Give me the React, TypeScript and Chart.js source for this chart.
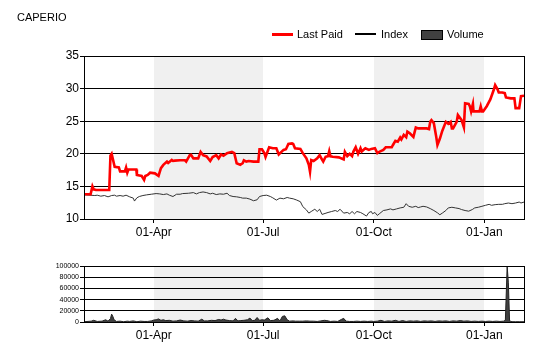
import React, { useEffect, useRef } from "react";
import { Chart, registerables } from "chart.js";

Chart.register(...registerables);

// ---- labels ----
const TITLE = "CAPERIO";
const legendLabels = ["Last Paid", "Index", "Volume"];

// ---- x axis: days counted from 01-Apr ----
const xMin = -58;
const xMax = 308;
const tickDays = [0, 91, 183, 275];
const tickLabels = ["01-Apr", "01-Jul", "01-Oct", "01-Jan"];
const shadedRanges = [
  [0, 91],
  [183, 275],
];

// ---- price axis ----
const priceMin = 10;
const priceMax = 35;
const priceStep = 5;

// ---- volume axis ----
const volumeMin = 0;
const volumeMax = 100000;
const volumeStep = 20000;

// ---- Last Paid ----
const lastPaidDays = [
  -58, -52.5, -51, -50, -48, -37, -36, -35, -32.5, -29, -28, -24, -23, -22, -21, -16, -14.5, -14, -10, -8, -7, -5, -3,
  1, 4, 6, 8, 11, 12, 15, 16, 17.5, 22, 26, 27, 30, 31, 33, 37, 39, 41, 44, 47, 49, 52, 54, 56, 58, 61, 65, 67, 69, 72,
  74, 75, 77, 79, 83, 87, 88, 90, 92, 93, 96, 99, 102, 104, 108, 110, 112, 115, 116, 117.5, 122, 124, 127, 129, 130,
  131, 133, 136, 138, 140, 141, 143, 145, 146, 147, 149, 154, 158, 159, 161, 163, 165, 166, 168, 170, 172, 173, 176,
  179, 181, 184, 186, 188, 191, 193, 198, 199, 201, 203, 205, 206, 208, 210, 211, 213, 216, 218, 220, 223, 227, 229,
  230, 231, 233, 235, 236, 238, 240, 243, 244, 245, 247, 248, 249, 252, 253, 255, 256, 258, 259, 262, 263, 264, 265.5,
  266, 269, 271, 272, 273, 274, 277, 280, 283, 284, 286, 287, 290, 292, 293, 297, 300, 301, 304, 305.5, 308,
];
const lastPaidValues = [
  13.8, 13.8, 15.0, 14.55, 14.45, 14.45, 19.7, 20.0, 18.0, 17.9, 17.3, 17.3, 17.9, 17.1, 17.6, 17.6, 17.6, 16.75, 16.6,
  16.0, 16.6, 16.75, 17.1, 17.0, 16.6, 17.8, 18.3, 18.8, 18.6, 19.05, 18.9, 18.95, 19.0, 19.0, 18.8, 19.8, 19.85, 19.3,
  19.3, 20.3, 19.8, 19.6, 18.9, 19.5, 19.8, 19.3, 19.9, 19.7, 20.1, 20.3, 20.1, 18.55, 18.3, 18.55, 19.0, 18.8, 18.9,
  18.8, 18.8, 20.7, 20.7, 20.1, 19.5, 21.0, 20.85, 20.85, 19.9, 20.6, 20.7, 21.5, 21.6, 21.5, 20.85, 20.75, 20.1, 19.3,
  18.3, 17.25, 19.05, 18.9, 19.3, 19.8, 19.1, 18.8, 19.55, 19.65, 20.4, 19.6, 19.55, 19.45, 19.15, 20.3, 19.65, 20.0,
  19.65, 20.3, 21.0, 20.0, 20.85, 20.35, 20.85, 20.6, 20.75, 20.85, 20.1, 20.35, 20.6, 21.0, 21.0, 21.35, 22.0, 21.85,
  22.5, 22.2, 22.9, 22.55, 23.4, 23.15, 22.6, 24.05, 23.9, 23.9, 23.9, 23.8, 24.9, 25.15, 24.7, 22.6, 21.35, 22.3, 23.5,
  24.9, 24.75, 24.6, 24.9, 23.9, 23.9, 24.9, 25.95, 25.45, 25.2, 24.05, 27.75, 27.65, 27.25, 26.5, 27.65, 26.5, 26.5,
  26.5, 27.25, 26.5, 26.5, 27.3, 28.35, 29.9, 30.55, 29.9, 29.4, 29.4, 29.3, 28.65, 28.5, 28.5, 27.0, 27.0, 28.85, 28.9,
];

// ---- Index ----
const indexDays = [
  -57.5, -53, -49, -47, -44, -41, -38, -35, -32.5, -31, -28, -25.5, -23, -20, -17, -16, -14, -12, -9, -6, -2, 2, 5, 8,
  11, 13, 16, 19, 22, 24, 29, 33, 35.5, 38, 41, 44, 47, 49, 52, 55, 58, 61, 63, 66, 69, 72, 74, 77, 80, 83, 86, 88, 91,
  94, 97, 99, 102, 105, 108, 111, 113, 116, 119, 122, 124, 127, 129, 131, 134, 136, 138, 140, 142.5, 145, 148, 151, 153,
  155, 158, 161, 163, 165, 167, 169, 172, 174, 177, 179, 181, 182, 184, 186, 188, 191, 194, 197, 199, 202, 205, 208,
  210, 212, 215, 218, 220, 222, 224, 227, 230, 233, 236, 238, 240, 243, 245, 248, 251, 254, 256, 259, 262, 265, 267,
  270, 273, 276, 279, 281, 284, 287, 290, 292, 295, 298, 301, 304, 305.5, 308,
];
const indexValues = [
  13.7, 13.65, 13.6, 13.65, 13.5, 13.6, 13.4, 13.6, 13.65, 13.5, 13.6, 13.5, 13.65, 13.4, 13.2, 12.75, 13.25, 13.45,
  13.6, 13.7, 13.8, 13.9, 13.85, 13.75, 13.85, 13.65, 13.45, 13.8, 13.8, 13.9, 13.95, 14.05, 13.85, 14.05, 14.15, 14.05,
  13.85, 13.95, 13.75, 13.85, 13.8, 13.95, 13.6, 13.45, 13.4, 13.3, 13.2, 13.2, 13.05, 12.8, 12.95, 13.45, 13.6, 13.65,
  13.45, 13.25, 12.9, 13.2, 13.1, 13.3, 13.2, 13.1, 12.9, 12.65, 11.9, 11.4, 10.9, 11.15, 11.5, 11.15, 11.5, 10.7,
  10.85, 11.0, 11.15, 11.3, 11.15, 11.5, 10.9, 11.0, 10.8, 11.15, 10.8, 11.15, 11.0, 10.8, 10.45, 11.0, 11.15, 10.8,
  11.0, 10.55, 10.85, 11.3, 11.4, 11.55, 11.4, 11.55, 11.7, 11.8, 12.35, 11.95, 11.8, 11.95, 11.75, 11.85, 11.95,
  11.85, 11.6, 11.3, 10.95, 10.65, 10.9, 11.3, 11.7, 11.8, 11.7, 11.6, 11.45, 11.3, 11.2, 11.45, 11.7, 11.8, 11.95,
  12.1, 12.25, 12.1, 12.2, 12.25, 12.25, 12.35, 12.45, 12.35, 12.45, 12.6, 12.45, 12.6,
];

// ---- Volume ----
const volumeDays = [
  -58, -52, -50, -47, -43, -40, -38, -36, -35, -34, -33, -31, -28, -25, -22, -20, -17, -14, -11, -8, -5, -2, 0, 2, 4, 6,
  8, 10, 13, 16, 19, 22, 25, 28, 31, 34, 37, 40, 42, 45, 48, 51, 54, 56, 58, 60, 63, 66, 68, 70, 72, 75, 78, 80, 82, 84,
  86, 88, 90, 92, 95, 97, 100, 103, 105, 107, 109, 111, 113, 116, 118, 121, 124, 127, 130, 133, 136, 139, 142, 144,
  147, 150, 153, 156, 158, 160, 163, 166, 169, 172, 175, 178, 181, 183, 186, 189, 192, 195, 198, 201, 204, 207, 210,
  213, 216, 219, 222, 225, 228, 231, 234, 237, 240, 243, 246, 249, 252, 255, 258, 261, 264, 267, 270, 273, 276, 279,
  282, 285, 288, 291, 292.5, 294, 295, 296, 298, 301, 304, 308,
];
const volumeValues = [
  500, 1500, 3000, 1000, 1500, 4000, 1500, 6000, 14000, 10000, 4000, 1000, 1500, 500, 1500, 1000, 2000, 500, 1500, 1000,
  1000, 2000, 3500, 4000, 5500, 3000, 4000, 2500, 3000, 1500, 2000, 3500, 2000, 1500, 2500, 2000, 1500, 5000, 2000,
  2000, 3000, 2500, 4500, 3500, 5000, 3500, 2500, 2000, 6500, 2000, 2500, 3000, 4000, 7000, 2500, 3000, 8000, 3000,
  4000, 3500, 7500, 2500, 3000, 6500, 2000, 10000, 11000, 4000, 1500, 2000, 1500, 1500, 1500, 2000, 1500, 1500, 1000,
  2000, 3000, 2500, 1000, 1500, 1000, 4500, 6500, 1500, 1000, 1000, 1500, 1000, 1500, 1000, 1500, 1000, 1500, 3000,
  1000, 2000, 1500, 3000, 1000, 2500, 1000, 2000, 1500, 2000, 1000, 2000, 1500, 2000, 1000, 2000, 1500, 2000, 1000,
  2000, 1500, 2500, 1500, 2000, 1000, 1500, 1000, 1500, 1000, 1500, 1000, 1500, 1000, 1500, 3000, 100000, 70000, 2000,
  500, 500, 500, 500,
];

const FONT = "'Liberation Sans', Arial, sans-serif";
const SHADE = "#f0f0f0";

const pts = (xs: number[], ys: number[]) => xs.map((x, i) => ({ x, y: ys[i] }));

const bandsPlugin = {
  id: "bands",
  beforeDraw(chart: any) {
    const { ctx, chartArea, scales } = chart;
    const xs = scales.x;
    ctx.save();
    ctx.fillStyle = SHADE;
    shadedRanges.forEach(([a, b]) => {
      const x0 = Math.round(xs.getPixelForValue(a));
      const x1 = Math.round(xs.getPixelForValue(b));
      ctx.fillRect(x0, chartArea.top, x1 - x0, chartArea.bottom - chartArea.top);
    });
    ctx.restore();
  },
};

const framePlugin = {
  id: "frame",
  afterDraw(chart: any) {
    const { ctx, chartArea } = chart;
    ctx.save();
    ctx.strokeStyle = "#000";
    ctx.lineWidth = 1;
    const l = Math.round(chartArea.left) + 0.5;
    const t = Math.round(chartArea.top) + 0.5;
    const r = Math.round(chartArea.right) + 0.5;
    const b = Math.round(chartArea.bottom) + 0.5;
    ctx.strokeRect(l, t, r - l, b - t);
    ctx.restore();
  },
};

const xScale = (height: number) => ({
  type: "linear" as const,
  min: xMin,
  max: xMax,
  afterBuildTicks: (s: any) => {
    s.ticks = tickDays.map((v) => ({ value: v }));
  },
  afterFit: (s: any) => {
    s.height = height;
  },
  ticks: {
    autoSkip: false,
    maxRotation: 0,
    padding: 2,
    color: "#000",
    font: { family: FONT, size: 12 },
    callback: (v: any) => {
      const i = tickDays.indexOf(Number(v));
      return i >= 0 ? tickLabels[i] : "";
    },
  },
  grid: { drawOnChartArea: false, drawTicks: true, tickLength: 4, color: "#000" },
  border: { color: "#000" },
});

function App() {
  const mainRef = useRef<HTMLCanvasElement>(null);
  const volRef = useRef<HTMLCanvasElement>(null);

  useEffect(() => {
    const main = new Chart(mainRef.current as HTMLCanvasElement, {
      type: "line",
      data: {
        datasets: [
          {
            label: legendLabels[0],
            data: pts(lastPaidDays, lastPaidValues),
            borderColor: "#ff0000",
            borderWidth: 2.6,
            pointRadius: 0,
            tension: 0,
            fill: false,
          },
          {
            label: legendLabels[1],
            data: pts(indexDays, indexValues),
            borderColor: "#333333",
            borderWidth: 1,
            pointRadius: 0,
            tension: 0,
            fill: false,
          },
        ],
      },
      options: {
        animation: false,
        responsive: false,
        maintainAspectRatio: false,
        layout: { padding: { left: 0, top: 56, right: 16, bottom: 6 } },
        plugins: { legend: { display: false }, tooltip: { enabled: false } },
        scales: {
          x: xScale(25) as any,
          y: {
            min: priceMin,
            max: priceMax,
            afterFit: (s: any) => {
              s.width = 84;
            },
            ticks: {
              stepSize: priceStep,
              padding: 1,
              color: "#000",
              font: { family: FONT, size: 12 },
            },
            grid: { color: "#000", tickLength: 4 },
            border: { color: "#000" },
          },
        },
      },
      plugins: [bandsPlugin, framePlugin],
    });

    const vol = new Chart(volRef.current as HTMLCanvasElement, {
      type: "line",
      data: {
        datasets: [
          {
            label: legendLabels[2],
            data: pts(volumeDays, volumeValues),
            borderColor: "#222222",
            backgroundColor: "#404040",
            borderWidth: 1,
            pointRadius: 0,
            tension: 0,
            fill: "origin",
          },
        ],
      },
      options: {
        animation: false,
        responsive: false,
        maintainAspectRatio: false,
        layout: { padding: { left: 0, top: 16, right: 16, bottom: 13 } },
        plugins: { legend: { display: false }, tooltip: { enabled: false } },
        scales: {
          x: xScale(25) as any,
          y: {
            min: volumeMin,
            max: volumeMax,
            afterFit: (s: any) => {
              s.width = 84;
            },
            ticks: {
              stepSize: volumeStep,
              autoSkip: false,
              padding: 1,
              color: "#000",
              font: { family: FONT, size: 7 },
              callback: (v: any) => String(v),
            },
            grid: { color: "#000", tickLength: 4 },
            border: { color: "#000" },
          },
        },
      },
      plugins: [bandsPlugin, framePlugin],
    });

    return () => {
      main.destroy();
      vol.destroy();
    };
  }, []);

  const text: React.CSSProperties = {
    position: "absolute",
    fontFamily: FONT,
    fontSize: "11px",
    lineHeight: "14px",
    color: "#000",
    whiteSpace: "nowrap",
  };

  return (
    <div
      style={{
        position: "fixed",
        left: 0,
        top: 0,
        width: 540,
        height: 360,
        background: "#fff",
        overflow: "hidden",
      }}
    >
      <canvas
        ref={mainRef}
        width={540}
        height={250}
        style={{ position: "absolute", left: 0, top: 0, width: 540, height: 250, display: "block" }}
      />
      <canvas
        ref={volRef}
        width={540}
        height={110}
        style={{ position: "absolute", left: 0, top: 250, width: 540, height: 110, display: "block" }}
      />
      <div style={{ ...text, left: 17, top: 10 }}>{TITLE}</div>
      <div style={{ position: "absolute", left: 272, top: 33, width: 21, height: 2.5, background: "#ff0000" }} />
      <div style={{ ...text, left: 297, top: 27 }}>{legendLabels[0]}</div>
      <div style={{ position: "absolute", left: 355, top: 33, width: 21, height: 2, background: "#000" }} />
      <div style={{ ...text, left: 381, top: 27 }}>{legendLabels[1]}</div>
      <div
        style={{
          position: "absolute",
          left: 421,
          top: 30,
          width: 20,
          height: 8,
          background: "#404040",
          border: "1px solid #000",
        }}
      />
      <div style={{ ...text, left: 447, top: 27 }}>{legendLabels[2]}</div>
    </div>
  );
}

export default App;
